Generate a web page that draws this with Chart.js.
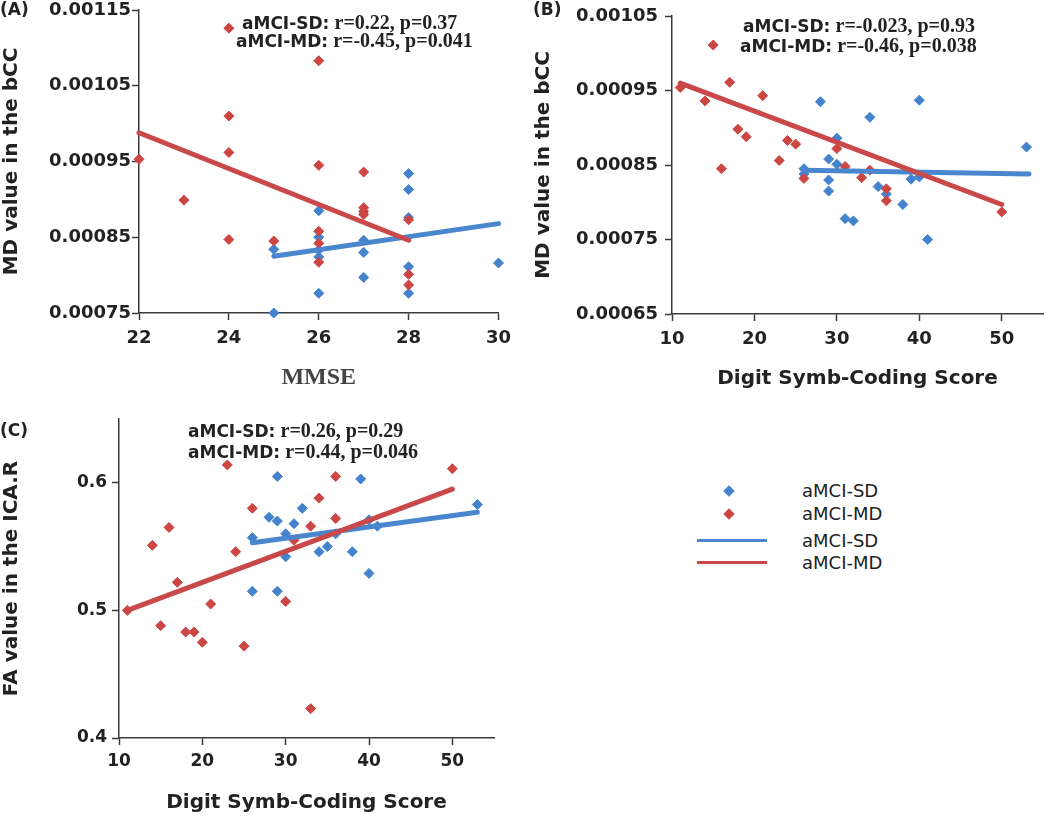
<!DOCTYPE html>
<html>
<head>
<meta charset="utf-8">
<script src="https://cdn.jsdelivr.net/npm/chart.js@4.4.0/dist/chart.umd.min.js"></script>
<style>
body { margin: 0; background: #fff; width: 1050px; height: 817px; position: relative; overflow: hidden; font-family: 'DejaVu Sans', sans-serif; color: #222; }
canvas { position: absolute; }
.tag { position: absolute; font-weight: bold; font-size: 17px; line-height: 18px; }
.note { position: absolute; white-space: nowrap; line-height: 20px; }
.note b { font-size: 17px; }
.note span { font-family: 'Liberation Serif', serif; font-weight: bold; font-size: 20px; }
.leg { position: absolute; font-size: 18px; line-height: 22px; }
.dia { position: absolute; width: 8px; height: 8px; transform: rotate(45deg); }
.bar { position: absolute; width: 70px; height: 3px; }
</style>
</head>
<body>
<canvas id="chartA" width="520" height="400" style="left:0;top:0"></canvas>
<canvas id="chartB" width="530" height="400" style="left:520px;top:0"></canvas>
<canvas id="chartC" width="560" height="417" style="left:0;top:400px"></canvas>

<div class="tag" style="left:0;top:0">(A)</div>
<div class="tag" style="left:533px;top:0">(B)</div>
<div class="tag" style="left:0;top:421px">(C)</div>

<div class="note" style="left:242px;top:12px"><b>aMCI-SD:</b> <span>r=0.22, p=0.37</span></div>
<div class="note" style="left:236px;top:30px"><b>aMCI-MD:</b> <span>r=-0.45, p=0.041</span></div>
<div class="note" style="left:743px;top:15px"><b>aMCI-SD:</b> <span>r=-0.023, p=0.93</span></div>
<div class="note" style="left:740px;top:35px"><b>aMCI-MD:</b> <span>r=-0.46, p=0.038</span></div>
<div class="note" style="left:188px;top:420px"><b>aMCI-SD:</b> <span>r=0.26, p=0.29</span></div>
<div class="note" style="left:188px;top:441px"><b>aMCI-MD:</b> <span>r=0.44, p=0.046</span></div>

<div class="dia" style="left:725px;top:487px;background:#4382cc"></div>
<div class="dia" style="left:725px;top:510px;background:#cc4644"></div>
<div class="bar" style="left:697px;top:539px;background:#4a86ce"></div>
<div class="bar" style="left:697px;top:561px;background:#c9484a"></div>
<div class="leg" style="left:802px;top:480px">aMCI-SD</div>
<div class="leg" style="left:802px;top:503px">aMCI-MD</div>
<div class="leg" style="left:802px;top:530px">aMCI-SD</div>
<div class="leg" style="left:802px;top:552px">aMCI-MD</div>

<script>
// (A) MMSE vs MD value in the bCC
const aSdX = [25, 25, 26, 26, 26, 26, 26, 27, 27, 27, 28, 28, 28, 28, 28, 30];
const aSdY = [0.000834, 0.00075, 0.000885, 0.00085, 0.000833, 0.000824, 0.000776, 0.000846, 0.00083, 0.000797, 0.000934, 0.000913, 0.000876, 0.000811, 0.000776, 0.000816];
const aMdX = [22, 23, 24, 24, 24, 24, 25, 26, 26, 26, 26, 26, 27, 27, 27, 27, 28, 28, 28];
const aMdY = [0.000953, 0.000899, 0.001126, 0.00101, 0.000962, 0.000847, 0.000845, 0.001083, 0.000945, 0.000858, 0.000842, 0.000817, 0.000936, 0.000889, 0.000884, 0.00088, 0.000873, 0.000801, 0.000787];
const aSdFitX = [25, 30];
const aSdFitY = [0.000825, 0.000868];
const aMdFitX = [22, 28];
const aMdFitY = [0.000988, 0.000846];
const aTicksX = [22, 24, 26, 28, 30];
const aTicksY = [0.00075, 0.00085, 0.00095, 0.00105, 0.00115];

// (B) Digit Symb-Coding score vs MD value in the bCC
const bSdX = [28, 40, 34, 30, 29, 30, 26, 26, 29, 29, 35, 36, 38, 39, 40, 31, 32, 41, 53];
const bSdY = [0.000935, 0.000937, 0.000914, 0.000886, 0.000858, 0.000851, 0.000845, 0.000838, 0.00083, 0.000815, 0.000821, 0.000811, 0.000797, 0.000831, 0.000834, 0.000778, 0.000775, 0.00075, 0.000874];
const bMdX = [11, 15, 14, 17, 21, 18, 19, 16, 24, 25, 23, 26, 30, 31, 33, 34, 36, 36, 50];
const bMdY = [0.000954, 0.001011, 0.000936, 0.000961, 0.000943, 0.000898, 0.000888, 0.000845, 0.000883, 0.000878, 0.000856, 0.000832, 0.000872, 0.000848, 0.000833, 0.000843, 0.000818, 0.000802, 0.000787];
const bSdFitX = [26, 53.3];
const bSdFitY = [0.000843, 0.000838];
const bMdFitX = [11, 50];
const bMdFitY = [0.00096, 0.000797];
const bTicksX = [10, 20, 30, 40, 50];
const bTicksY = [0.00065, 0.00075, 0.00085, 0.00095, 0.00105];

// (C) Digit Symb-Coding score vs FA value in the ICA.R
const cSdX = [29, 39, 53, 32, 28, 29, 31, 40, 41, 26, 30, 30, 34, 35, 38, 40, 26, 29, 36];
const cSdY = [0.605, 0.603, 0.583, 0.58, 0.573, 0.57, 0.568, 0.571, 0.566, 0.557, 0.56, 0.542, 0.546, 0.55, 0.546, 0.529, 0.515, 0.515, 0.56];
const cMdX = [23, 50, 36, 34, 26, 36, 16, 33, 14, 24, 17, 31, 21, 30, 15, 18, 19, 20, 25, 33, 11];
const cMdY = [0.614, 0.611, 0.605, 0.588, 0.58, 0.572, 0.565, 0.566, 0.551, 0.546, 0.522, 0.555, 0.505, 0.507, 0.488, 0.483, 0.483, 0.475, 0.472, 0.423, 0.5];
const cSdFitX = [26, 53];
const cSdFitY = [0.553, 0.577];
const cMdFitX = [11, 50];
const cMdFitY = [0.5, 0.595];
const cTicksX = [10, 20, 30, 40, 50];
const cTicksY = [0.4, 0.5, 0.6];

const BLUE = '#4382cc';
const RED = '#cc4644';
const BLUE_LINE = '#4a86ce';
const RED_LINE = '#c9484a';
const AXIS = '#3a3a3a';
const TEXT = '#222';

function pts(xs, ys) {
    return xs.map((x, i) => ({ x: x, y: ys[i] }));
}

function panel(id, p) {
    const ctx = document.getElementById(id).getContext('2d');
    return new Chart(ctx, {
        type: 'scatter',
        data: {
            datasets: [
                { label: 'aMCI-MD', data: pts(p.mdFitX, p.mdFitY), showLine: true, borderColor: RED_LINE, borderWidth: 5, pointRadius: 0, borderCapStyle: 'round', clip: false },
                { label: 'aMCI-SD', data: pts(p.sdFitX, p.sdFitY), showLine: true, borderColor: BLUE_LINE, borderWidth: 5, pointRadius: 0, borderCapStyle: 'round', clip: false },
                { label: 'aMCI-MD', data: pts(p.mdX, p.mdY), pointStyle: 'rectRot', pointRadius: 5, backgroundColor: RED, borderColor: RED, borderWidth: 1, clip: false },
                { label: 'aMCI-SD', data: pts(p.sdX, p.sdY), pointStyle: 'rectRot', pointRadius: 5, backgroundColor: BLUE, borderColor: BLUE, borderWidth: 1, clip: false }
            ]
        },
        options: {
            responsive: false,
            animation: false,
            layout: { padding: { top: p.padTop, right: p.padRight, bottom: 0, left: 0 } },
            plugins: { legend: { display: false }, tooltip: { enabled: false } },
            scales: {
                x: {
                    min: p.xMin, max: p.xMax,
                    afterBuildTicks: s => { s.ticks = p.ticksX.map(v => ({ value: v })); },
                    afterFit: s => { s.height = p.xH; },
                    ticks: { autoSkip: false, maxRotation: 0, padding: p.xTickPad, color: TEXT,
                        font: { family: 'DejaVu Sans', weight: 'bold', size: p.tickSize, lineHeight: 1 } },
                    grid: { drawOnChartArea: false, tickLength: 7, color: AXIS, tickWidth: 1.5 },
                    border: { color: AXIS, width: 1.5 },
                    title: { display: true, text: p.xTitle, color: p.xTitleColor, font: p.xTitleFont,
                        padding: { top: 0, bottom: p.xTitlePad } }
                },
                y: {
                    min: p.yMin, max: p.yMax,
                    afterBuildTicks: s => { s.ticks = p.ticksY.map(v => ({ value: v })); },
                    afterFit: s => { s.width = p.yW; },
                    ticks: { padding: p.yTickPad, color: TEXT, callback: v => v.toFixed(p.digits),
                        font: { family: 'DejaVu Sans', weight: 'bold', size: p.tickSize, lineHeight: 1 } },
                    grid: { drawOnChartArea: false, tickLength: 7, color: AXIS, tickWidth: 1.5 },
                    border: { color: AXIS, width: 1.5 },
                    title: { display: true, text: p.yTitle, color: TEXT,
                        font: { family: 'DejaVu Sans', weight: 'bold', size: 20 },
                        padding: { top: p.yTitlePad, bottom: 0 } }
                }
            }
        }
    });
}

const sansTitle = { family: 'DejaVu Sans', weight: 'bold', size: 20 };

panel('chartA', {
    sdX: aSdX, sdY: aSdY, mdX: aMdX, mdY: aMdY,
    sdFitX: aSdFitX, sdFitY: aSdFitY, mdFitX: aMdFitX, mdFitY: aMdFitY,
    ticksX: aTicksX, ticksY: aTicksY, xMin: 22, xMax: 30, yMin: 0.00075, yMax: 0.00115, digits: 5,
    padTop: 9, padRight: 21, yW: 139, xH: 87, tickSize: 18, xTickPad: 9, yTickPad: 1,
    xTitle: 'MMSE', xTitleColor: '#444', xTitleFont: { family: 'Liberation Serif', weight: 'bold', size: 24 }, xTitlePad: 8,
    yTitle: 'MD value in the bCC', yTitlePad: 0
});

panel('chartB', {
    sdX: bSdX, sdY: bSdY, mdX: bMdX, mdY: bMdY,
    sdFitX: bSdFitX, sdFitY: bSdFitY, mdFitX: bMdFitX, mdFitY: bMdFitY,
    ticksX: bTicksX, ticksY: bTicksY, xMin: 10, xMax: 55, yMin: 0.00065, yMax: 0.00105, digits: 5,
    padTop: 9, padRight: 7, yW: 152, xH: 86, tickSize: 18, xTickPad: 9, yTickPad: 7,
    xTitle: 'Digit Symb-Coding Score', xTitleColor: TEXT, xTitleFont: sansTitle, xTitlePad: 9,
    yTitle: 'MD value in the bCC', yTitlePad: 12
});

panel('chartC', {
    sdX: cSdX, sdY: cSdY, mdX: cMdX, mdY: cMdY,
    sdFitX: cSdFitX, sdFitY: cSdFitY, mdFitX: cMdFitX, mdFitY: cMdFitY,
    ticksX: cTicksX, ticksY: cTicksY, xMin: 10, xMax: 55, yMin: 0.4, yMax: 0.65, digits: 1,
    padTop: 19, padRight: 66, yW: 119, xH: 79, tickSize: 17, xTickPad: 8, yTickPad: 5,
    xTitle: 'Digit Symb-Coding Score', xTitleColor: TEXT, xTitleFont: sansTitle, xTitlePad: 2,
    yTitle: 'FA value in the ICA.R', yTitlePad: 0
});
</script>
</body>
</html>
